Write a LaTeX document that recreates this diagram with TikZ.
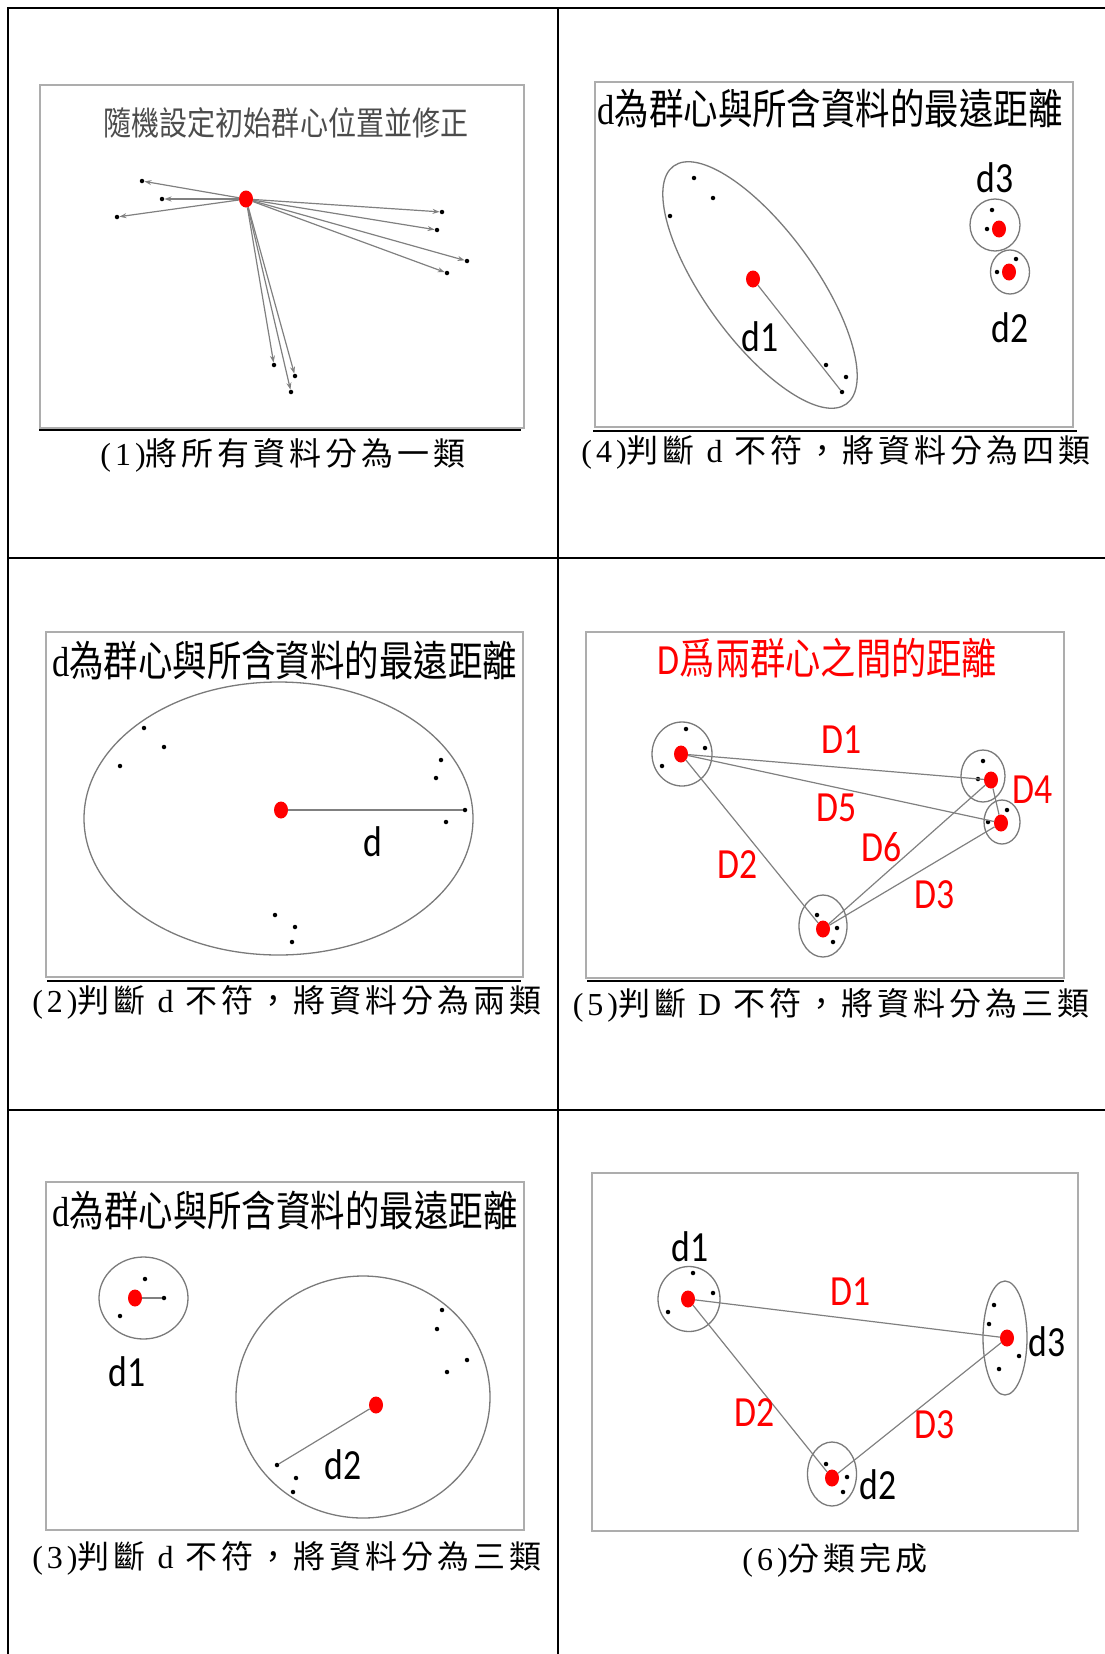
\documentclass[tikz,border=0pt]{standalone}
\usepackage{fontspec}
\setmainfont{Liberation Serif}
\newfontfamily\tcjk[FakeStretch=0.82]{Noto Sans CJK TC}
\newfontfamily\tcjkA[FakeStretch=0.85]{Noto Sans CJK TC}
\newfontfamily\tser[FakeStretch=0.82]{Liberation Serif}
\newfontfamily\ccjk[LetterSpace=12.5]{Noto Sans CJK TC}
\newfontfamily\cser[LetterSpace=12.5]{Liberation Serif}
\newfontfamily\lblf[FakeStretch=0.83]{Carlito}
\usetikzlibrary{shapes.geometric,arrows.meta}
\definecolor{boxgray}{gray}{0.68}
\definecolor{grpgray}{gray}{0.48}
\definecolor{linegray}{gray}{0.5}
\definecolor{titlegray}{gray}{0.3}
\begin{document}
\begin{tikzpicture}[x=1pt,y=-1pt,
  ctr/.style={ellipse, fill=red, inner sep=0pt, minimum width=14pt, minimum height=17pt},
  dot/.style={circle, fill=black, inner sep=0pt, minimum size=4.5pt},
  grp/.style={draw=grpgray, line width=1.3pt},
  link/.style={draw=linegray, line width=1.2pt},
  arr/.style={link, -{Stealth[length=7pt,width=5pt]}},
  lab/.style={font={\lblf\fontsize{43}{50}\selectfont}, inner sep=0pt},
  rlab/.style={lab, text=red},
  ttl/.style={font={\fontsize{42}{50}\selectfont}, inner sep=0pt},
  ttlA/.style={font={\fontsize{33}{40}\selectfont}, inner sep=0pt, text=titlegray},
  captxt/.style={font={\fontsize{32}{38}\selectfont}, inner sep=0pt},
  panel/.style={draw=boxgray, line width=1.6pt},
  uline/.style={draw=black, line width=1.8pt},
  tbl/.style={draw=black, line width=1.8pt}]
\useasboundingbox (0,0) rectangle (1105,1654);
% table grid
\draw[tbl] (8,1654) -- (8,8) -- (1105,8);
\draw[tbl] (558,8) -- (558,1654);
\draw[tbl] (8,558) -- (1105,558);
\draw[tbl] (8,1110) -- (1105,1110);

% ---------- panel 1 ----------
\draw[panel] (40,85) rectangle (524,428);
\draw[uline] (39,430) -- (521,430);
\node[ttlA] (t1) at (286,123) {\tcjkA 隨機設定初始群心位置並修正};
\node[captxt] (c1) at (283,455) {\cser (1)\ccjk 將所有資料分為一類};
\node[ctr] (p1c) at (246,199) {};
\node[dot] (p1a) at (142,181) {};
\node[dot] (p1b) at (162,199) {};
\node[dot] (p1d) at (117,217) {};
\node[dot] (p1e) at (442,212) {};
\node[dot] (p1f) at (437,230) {};
\node[dot] (p1g) at (467,261) {};
\node[dot] (p1h) at (447,273) {};
\node[dot] (p1i) at (274,365) {};
\node[dot] (p1j) at (295,376) {};
\node[dot] (p1k) at (291,392) {};
\foreach \n in {p1a,p1b,p1d,p1e,p1f,p1g,p1h,p1i,p1j,p1k}
  \draw[arr] (p1c) -- (\n);

% ---------- panel 4 ----------
\draw[panel] (595,82) rectangle (1073,427);
\draw[uline] (593,431) -- (1077,431);
\node[ttl] (t4) at (830,108) {\tser d\tcjk 為群心與所含資料的最遠距離};
\node[captxt] (c4) at (836,452) {\cser (4)\ccjk 判斷\cser\ d\ \ccjk 不符，將資料分為四類};
\draw[grp, rotate around={-54:(760,285)}] (760,285) ellipse [x radius=147pt, y radius=55pt];
\draw[grp] (995,225) ellipse [x radius=25pt, y radius=26pt];
\draw[grp] (1010,272) ellipse [x radius=19.5pt, y radius=22pt];
\node[ctr] (p4c1) at (753,279) {};
\node[ctr] (p4c3) at (999,229) {};
\node[ctr] (p4c2) at (1009,272) {};
\node[dot] (p4a) at (694,178) {};
\node[dot] (p4b) at (713,198) {};
\node[dot] (p4d) at (670,216) {};
\node[dot] (p4e) at (826,365) {};
\node[dot] (p4f) at (846,377) {};
\node[dot] (p4g) at (842,392) {};
\node[dot] (p4h) at (992,210) {};
\node[dot] (p4i) at (987,229) {};
\node[dot] (p4j) at (1016,259) {};
\node[dot] (p4k) at (997,272) {};
\draw[link] (p4c1) -- (p4g);
\node[lab] (l4d1) at (760,337) {d1};
\node[lab] (l4d3) at (995,178) {d3};
\node[lab] (l4d2) at (1010,328) {d2};

% ---------- panel 2 ----------
\draw[panel] (46,632) rectangle (523,977);
\draw[uline] (47,981) -- (521,981);
\node[ttl] (t2) at (284.5,660) {\tser d\tcjk 為群心與所含資料的最遠距離};
\node[captxt] (c2) at (287,1002) {\cser (2)\ccjk 判斷\cser\ d\ \ccjk 不符，將資料分為兩類};
\draw[grp] (278.5,818.5) ellipse [x radius=194.5pt, y radius=136.5pt];
\node[ctr] (p2c) at (281,810) {};
\node[dot] (p2a) at (144,728) {};
\node[dot] (p2b) at (164,747) {};
\node[dot] (p2d) at (120,766) {};
\node[dot] (p2e) at (441,760) {};
\node[dot] (p2f) at (436,778) {};
\node[dot] (p2g) at (465,810) {};
\node[dot] (p2h) at (446,822) {};
\node[dot] (p2i) at (275,915) {};
\node[dot] (p2j) at (295,927) {};
\node[dot] (p2k) at (292,942) {};
\draw[link] (p2c) -- (p2g);
\node[lab] (l2d) at (373,842) {d};

% ---------- panel 5 ----------
\draw[panel] (586,632) rectangle (1064,978);
\draw[uline] (587,981) -- (1064,981);
\node[ttl, font={\fontsize{43}{50}\selectfont}, text=red] (t5) at (827.5,658) {\lblf D\tcjk 爲兩群心之間的距離};
\node[captxt] (c5) at (831,1005) {\cser (5)\ccjk 判斷\cser\ D\ \ccjk 不符，將資料分為三類};
\draw[grp] (682,754) ellipse [x radius=30pt, y radius=32pt];
\draw[grp] (983,776) ellipse [x radius=22pt, y radius=26pt];
\draw[grp] (1002,822) ellipse [x radius=18pt, y radius=22pt];
\draw[grp] (823,926) ellipse [x radius=24pt, y radius=31pt];
\node[ctr] (p5A) at (681,754) {};
\node[ctr] (p5B) at (991,780) {};
\node[ctr] (p5C) at (1001,823) {};
\node[ctr] (p5E) at (823,929) {};
\node[dot] (p5a1) at (686,729) {};
\node[dot] (p5a2) at (705,748) {};
\node[dot] (p5a3) at (662,766) {};
\node[dot] (p5b1) at (983,761) {};
\node[dot] (p5b2) at (978,779) {};
\node[dot] (p5c1) at (1007,810) {};
\node[dot] (p5c2) at (988,822) {};
\node[dot] (p5e1) at (817,915) {};
\node[dot] (p5e2) at (837,928) {};
\node[dot] (p5e3) at (833,942) {};
\draw[link] (p5A) -- (p5B);
\draw[link] (p5A) -- (p5C);
\draw[link] (p5A) -- (p5E);
\draw[link] (p5E) -- (p5B);
\draw[link] (p5E) -- (p5C);
\draw[link] (p5B) -- (p5C);
\node[rlab] (l5D1) at (842,740) {D1};
\node[rlab] (l5D5) at (837,808) {D5};
\node[rlab] (l5D6) at (882,847) {D6};
\node[rlab] (l5D2) at (738,865) {D2};
\node[rlab] (l5D3) at (935,895) {D3};
\node[rlab] (l5D4) at (1033,790) {D4};

% ---------- panel 3 ----------
\draw[panel] (46,1182) rectangle (524,1530);
\node[ttl] (t3) at (285,1210) {\tser d\tcjk 為群心與所含資料的最遠距離};
\node[captxt] (c3) at (287,1558) {\cser (3)\ccjk 判斷\cser\ d\ \ccjk 不符，將資料分為三類};
\draw[grp] (143.5,1298) ellipse [x radius=44.5pt, y radius=41pt];
\draw[grp] (363,1397) ellipse [x radius=127pt, y radius=121pt];
\node[ctr] (p3c1) at (135,1298) {};
\node[ctr] (p3c2) at (376,1405) {};
\node[dot] (p3a) at (145,1279) {};
\node[dot] (p3b) at (164,1298) {};
\node[dot] (p3d) at (120,1316) {};
\node[dot] (p3e) at (442,1310) {};
\node[dot] (p3f) at (437,1329) {};
\node[dot] (p3g) at (467,1360) {};
\node[dot] (p3h) at (447,1372) {};
\node[dot] (p3i) at (277,1465) {};
\node[dot] (p3j) at (296,1478) {};
\node[dot] (p3k) at (293,1492) {};
\draw[link] (p3c1) -- (p3b);
\draw[link] (p3c2) -- (p3i);
\node[lab] (l3d1) at (127,1372) {d1};
\node[lab] (l3d2) at (343,1465) {d2};

% ---------- panel 6 ----------
\draw[panel] (592,1173) rectangle (1078,1531);
\node[captxt] (c6) at (835,1560) {\cser (6)\ccjk 分類完成};
\draw[grp] (689,1299) ellipse [x radius=31pt, y radius=32.5pt];
\draw[grp] (1005,1338) ellipse [x radius=22pt, y radius=57pt];
\draw[grp] (832,1474) ellipse [x radius=24.5pt, y radius=32pt];
\node[ctr] (p6c1) at (688,1299) {};
\node[ctr] (p6c3) at (1007,1338) {};
\node[ctr] (p6c2) at (832,1478) {};
\node[dot] (p6a1) at (693,1273) {};
\node[dot] (p6a2) at (713,1293) {};
\node[dot] (p6a3) at (668,1312) {};
\node[dot] (p6b1) at (994,1305) {};
\node[dot] (p6b2) at (989,1324) {};
\node[dot] (p6b3) at (1019,1356) {};
\node[dot] (p6b4) at (999,1369) {};
\node[dot] (p6e1) at (826,1464) {};
\node[dot] (p6e2) at (847,1477) {};
\node[dot] (p6e3) at (843,1492) {};
\draw[link] (p6c1) -- (p6c3);
\draw[link] (p6c1) -- (p6c2);
\draw[link] (p6c2) -- (p6c3);
\node[lab] (l6d1) at (690,1247) {d1};
\node[lab] (l6d3) at (1047,1342) {d3};
\node[lab] (l6d2) at (878,1485) {d2};
\node[rlab] (l6D1) at (851,1292) {D1};
\node[rlab] (l6D2) at (755,1413) {D2};
\node[rlab] (l6D3) at (935,1425) {D3};
\end{tikzpicture}
\end{document}
